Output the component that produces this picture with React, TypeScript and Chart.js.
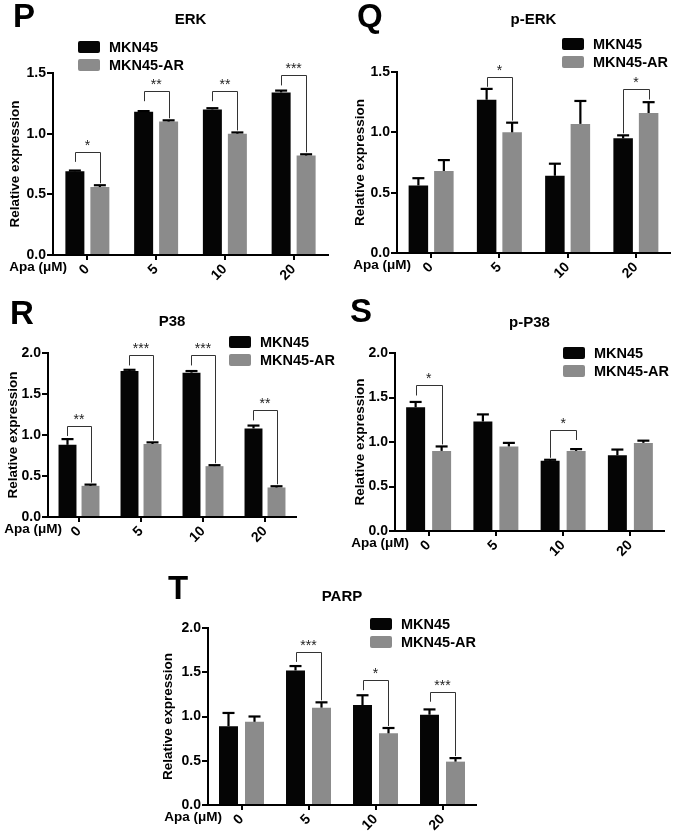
import React, { useEffect, useRef } from 'react';
import { Chart, registerables } from 'chart.js';

Chart.register(...registerables);

const FONT = '"Liberation Sans", Arial, Helvetica, sans-serif';
Chart.defaults.font.family = FONT;

// ---------- data ----------
const categories = ['0', '5', '10', '20'];
const seriesNames = ['MKN45', 'MKN45-AR'];
const yTicksSmall = [0, 0.5, 1.0, 1.5];
const yTicksLarge = [0, 0.5, 1.0, 1.5, 2.0];
const xAxisName = 'Apa (μM)';
const yAxisName = 'Relative expression';

// P: ERK
const erkMKN45 = [0.69, 1.18, 1.2, 1.34];
const erkMKN45Err = [0.006, 0.006, 0.01, 0.015];
const erkAR = [0.56, 1.1, 1.0, 0.82];
const erkARErr = [0.015, 0.01, 0.01, 0.01];
const erkSig = ['*', '**', '**', '***'];
const erkSigTop = [0.85, 1.35, 1.35, 1.48];

// Q: p-ERK
const pErkMKN45 = [0.56, 1.27, 0.64, 0.95];
const pErkMKN45Err = [0.06, 0.09, 0.1, 0.025];
const pErkAR = [0.68, 1.0, 1.07, 1.16];
const pErkARErr = [0.09, 0.08, 0.19, 0.09];
const pErkSig = ['', '*', '', '*'];
const pErkSigTop = [0, 1.46, 0, 1.355];

// R: P38
const p38MKN45 = [0.88, 1.78, 1.76, 1.08];
const p38MKN45Err = [0.07, 0.015, 0.02, 0.035];
const p38AR = [0.38, 0.89, 0.62, 0.36];
const p38ARErr = [0.015, 0.02, 0.012, 0.015];
const p38Sig = ['**', '***', '***', '**'];
const p38SigTop = [1.11, 1.97, 1.97, 1.3];

// S: p-P38
const pP38MKN45 = [1.39, 1.23, 0.79, 0.85];
const pP38MKN45Err = [0.06, 0.08, 0.01, 0.065];
const pP38AR = [0.9, 0.95, 0.9, 0.99];
const pP38ARErr = [0.05, 0.04, 0.02, 0.025];
const pP38Sig = ['*', '', '*', ''];
const pP38SigTop = [1.635, 0, 1.135, 0];

// T: PARP
const parpMKN45 = [0.89, 1.52, 1.13, 1.02];
const parpMKN45Err = [0.15, 0.05, 0.11, 0.06];
const parpAR = [0.94, 1.1, 0.81, 0.49];
const parpARErr = [0.06, 0.06, 0.06, 0.04];
const parpSig = ['', '***', '*', '***'];
const parpSigTop = [0, 1.73, 1.41, 1.28];

// ---------- layout (styles / positions) ----------
const W = 677;
const H = 838;
const Y_AXIS_W = 40;
const X_AXIS_H = 30;

type Panel = {
  letter: string; title: string;
  a: number[]; ae: number[]; b: number[]; be: number[];
  sig: string[]; sigTop: number[]; ticks: number[];
  area: { l: number; r: number; t: number; b: number };
  letterPos: [number, number]; titleY: number; legend: [number, number];
  yTitleX: number; barPct: number; catPct: number;
};

const panels: Panel[] = [
  {
    letter: 'P', title: 'ERK', a: erkMKN45, ae: erkMKN45Err, b: erkAR, be: erkARErr,
    sig: erkSig, sigTop: erkSigTop, ticks: yTicksSmall,
    area: { l: 53, r: 328, t: 73, b: 255 }, letterPos: [13, 27], titleY: 20, legend: [78, 47],
    yTitleX: 15, barPct: 0.76, catPct: 0.727,
  },
  {
    letter: 'Q', title: 'p-ERK', a: pErkMKN45, ae: pErkMKN45Err, b: pErkAR, be: pErkARErr,
    sig: pErkSig, sigTop: pErkSigTop, ticks: yTicksSmall,
    area: { l: 397, r: 670, t: 72, b: 253 }, letterPos: [357, 27], titleY: 20, legend: [562, 44],
    yTitleX: 360, barPct: 0.765, catPct: 0.747,
  },
  {
    letter: 'R', title: 'P38', a: p38MKN45, ae: p38MKN45Err, b: p38AR, be: p38ARErr,
    sig: p38Sig, sigTop: p38SigTop, ticks: yTicksLarge,
    area: { l: 48, r: 296, t: 353, b: 517 }, letterPos: [10, 324], titleY: 322, legend: [229, 342],
    yTitleX: 13, barPct: 0.78, catPct: 0.742,
  },
  {
    letter: 'S', title: 'p-P38', a: pP38MKN45, ae: pP38MKN45Err, b: pP38AR, be: pP38ARErr,
    sig: pP38Sig, sigTop: pP38SigTop, ticks: yTicksLarge,
    area: { l: 395, r: 664, t: 353, b: 531 }, letterPos: [350, 322], titleY: 323, legend: [563, 353],
    yTitleX: 360, barPct: 0.73, catPct: 0.773,
  },
  {
    letter: 'T', title: 'PARP', a: parpMKN45, ae: parpMKN45Err, b: parpAR, be: parpARErr,
    sig: parpSig, sigTop: parpSigTop, ticks: yTicksLarge,
    area: { l: 208, r: 476, t: 628, b: 805 }, letterPos: [168, 599], titleY: 597, legend: [370, 624],
    yTitleX: 168, barPct: 0.73, catPct: 0.776,
  },
];

const BLACK = '#050505';
const GRAY = '#8b8b8b';

function makeOverlay(p: Panel) {
  return {
    id: 'overlay' + p.letter,
    afterDatasetsDraw(chart: any) {
      const ctx = chart.ctx as CanvasRenderingContext2D;
      const y = chart.scales.y;
      const m0 = chart.getDatasetMeta(0);
      const m1 = chart.getDatasetMeta(1);
      const errs = [p.ae, p.be];
      const vals = [p.a, p.b];
      ctx.save();
      // error bars (upper only)
      [m0, m1].forEach((meta: any, di: number) => {
        meta.data.forEach((bar: any, i: number) => {
          const v = vals[di][i];
          const e = errs[di][i];
          const yTop = y.getPixelForValue(v);
          const yErr = y.getPixelForValue(v + e);
          ctx.strokeStyle = '#000';
          ctx.lineWidth = 2.2;
          ctx.beginPath();
          ctx.moveTo(bar.x, yTop);
          ctx.lineTo(bar.x, yErr);
          ctx.stroke();
          ctx.beginPath();
          ctx.moveTo(bar.x - 6, yErr);
          ctx.lineTo(bar.x + 6, yErr);
          ctx.stroke();
        });
      });
      // significance brackets
      for (let i = 0; i < categories.length; i++) {
        const label = p.sig[i];
        if (!label) continue;
        const lx = m0.data[i].x;
        const rx = m1.data[i].x;
        const topY = y.getPixelForValue(p.sigTop[i]);
        const lBar = y.getPixelForValue(p.a[i] + p.ae[i]) - 2;
        const rBar = y.getPixelForValue(p.b[i] + p.be[i]) - 2;
        let lEnd = lBar;
        let rEnd = rBar;
        if (lBar < rBar) lEnd = Math.min(lBar, topY + 10);
        else rEnd = Math.min(rBar, topY + 10);
        ctx.strokeStyle = '#333';
        ctx.lineWidth = 1;
        ctx.beginPath();
        ctx.moveTo(Math.round(lx) + 0.5, lEnd);
        ctx.lineTo(Math.round(lx) + 0.5, Math.round(topY) + 0.5);
        ctx.lineTo(Math.round(rx) + 0.5, Math.round(topY) + 0.5);
        ctx.lineTo(Math.round(rx) + 0.5, rEnd);
        ctx.stroke();
        ctx.fillStyle = '#222';
        ctx.font = `14px ${FONT}`;
        ctx.textAlign = 'center';
        ctx.textBaseline = 'alphabetic';
        ctx.fillText(label, (lx + rx) / 2, topY - 2);
      }
      ctx.restore();
    },
    afterDraw(chart: any) {
      const ctx = chart.ctx as CanvasRenderingContext2D;
      const area = chart.chartArea;
      ctx.save();
      ctx.fillStyle = '#000';
      // panel letter
      ctx.font = `bold 33px ${FONT}`;
      ctx.textAlign = 'left';
      ctx.textBaseline = 'alphabetic';
      ctx.fillText(p.letter, p.letterPos[0], p.letterPos[1]);
      // title
      ctx.font = `bold 15px ${FONT}`;
      ctx.textAlign = 'center';
      ctx.textBaseline = 'middle';
      ctx.fillText(p.title, (area.left + area.right) / 2, p.titleY);
      // legend
      const [lx, ly] = p.legend;
      const colors = [BLACK, GRAY];
      seriesNames.forEach((name, i) => {
        const cy = ly + i * 18;
        ctx.fillStyle = colors[i];
        ctx.beginPath();
        (ctx as any).roundRect(lx, cy - 6, 22, 12, 2);
        ctx.fill();
        ctx.fillStyle = '#000';
        ctx.font = `bold 14.5px ${FONT}`;
        ctx.textAlign = 'left';
        ctx.textBaseline = 'middle';
        ctx.fillText(name, lx + 31, cy + 1);
      });
      // y axis title
      ctx.save();
      ctx.translate(p.yTitleX, (area.top + area.bottom) / 2);
      ctx.rotate(-Math.PI / 2);
      ctx.font = `bold 13.5px ${FONT}`;
      ctx.textAlign = 'center';
      ctx.textBaseline = 'middle';
      ctx.fillStyle = '#000';
      ctx.fillText(yAxisName, 0, 0);
      ctx.restore();
      // x axis name
      ctx.font = `bold 13.5px ${FONT}`;
      ctx.textAlign = 'right';
      ctx.textBaseline = 'middle';
      ctx.fillText(xAxisName, area.left + 14, area.bottom + 12);
      ctx.restore();
    },
  };
}

function makeConfig(p: Panel, pad: any) {
  const maxY = p.ticks[p.ticks.length - 1];
  const axisGrid = {
    display: true,
    offset: false,
    drawOnChartArea: false,
    drawTicks: true,
    color: '#000',
    lineWidth: 2,
    tickColor: '#000',
    tickWidth: 2,
  };
  return {
    type: 'bar' as const,
    data: {
      labels: categories,
      datasets: [
        { label: seriesNames[0], data: p.a, backgroundColor: BLACK, barPercentage: p.barPct, categoryPercentage: p.catPct },
        { label: seriesNames[1], data: p.b, backgroundColor: GRAY, barPercentage: p.barPct, categoryPercentage: p.catPct },
      ],
    },
    options: {
      responsive: false,
      animation: false as const,
      devicePixelRatio: 1,
      layout: { padding: pad },
      plugins: {
        legend: { display: false },
        tooltip: { enabled: false },
        title: { display: false },
      },
      scales: {
        x: {
          offset: true,
          grid: { ...axisGrid, tickLength: 5 },
          border: { display: true, color: '#000', width: 2 },
          ticks: {
            color: '#000',
            font: { size: 14, weight: 'bold' as const },
            minRotation: 45,
            maxRotation: 45,
            autoSkip: false,
            padding: 1,
          },
          afterFit: (s: any) => { s.height = X_AXIS_H; },
        },
        y: {
          min: 0,
          max: maxY,
          grid: { ...axisGrid, tickLength: 6 },
          border: { display: true, color: '#000', width: 2 },
          ticks: {
            stepSize: 0.5,
            color: '#000',
            font: { size: 14, weight: 'bold' as const },
            padding: 1,
            callback: (v: any) => Number(v).toFixed(1),
          },
          afterFit: (s: any) => { s.width = Y_AXIS_W; },
        },
      },
    },
    plugins: [makeOverlay(p)],
  };
}

export default function App() {
  const refs = useRef<(HTMLCanvasElement | null)[]>([]);

  useEffect(() => {
    const charts = panels.map((p, i) => {
      const canvas = refs.current[i] as HTMLCanvasElement;
      const pad = {
        left: p.area.l - Y_AXIS_W,
        right: W - p.area.r,
        top: p.area.t,
        bottom: H - p.area.b - X_AXIS_H,
      };
      const chart = new Chart(canvas, makeConfig(p, pad) as any);
      for (let k = 0; k < 4; k++) {
        const a = chart.chartArea;
        const dl = p.area.l - a.left;
        const dr = a.right - p.area.r;
        const dt = p.area.t - a.top;
        const db = a.bottom - p.area.b;
        if (Math.abs(dl) + Math.abs(dr) + Math.abs(dt) + Math.abs(db) < 0.5) break;
        pad.left += dl;
        pad.right += dr;
        pad.top += dt;
        pad.bottom += db;
        chart.update();
      }
      return chart;
    });
    return () => charts.forEach((c) => c.destroy());
  }, []);

  return (
    <div style={{ position: 'fixed', left: 0, top: 0, width: W, height: H, background: '#fff' }}>
      {panels.map((p, i) => (
        <canvas
          key={p.letter}
          ref={(el) => { refs.current[i] = el; }}
          width={W}
          height={H}
          style={{ position: 'absolute', left: 0, top: 0, width: W, height: H }}
        />
      ))}
    </div>
  );
}
